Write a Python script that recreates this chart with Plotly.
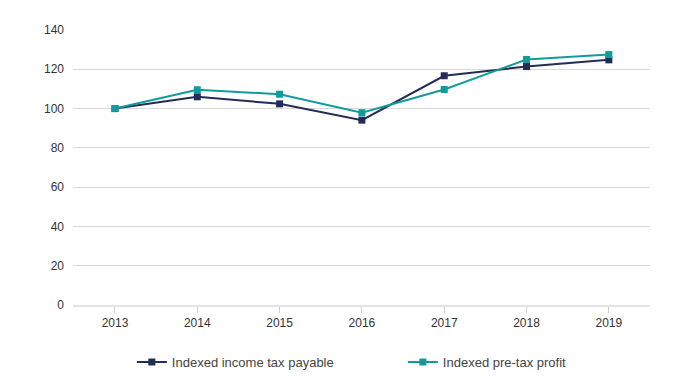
import plotly.graph_objects as go

years = [2013, 2014, 2015, 2016, 2017, 2018, 2019]
income_tax = [100, 106.0, 102.4, 94.1, 116.7, 121.4, 124.8]
pretax_profit = [100, 109.6, 107.3, 97.9, 109.7, 125.0, 127.5]
y_ticks = [0, 20, 40, 60, 80, 100, 120, 140]

navy = "#232c57"
teal = "#139a9c"

fig = go.Figure()
fig.add_trace(go.Scatter(x=years, y=income_tax, mode="lines+markers",
                         name="Indexed income tax payable",
                         line=dict(color=navy, width=2),
                         marker=dict(symbol="square", size=7, color=navy)))
fig.add_trace(go.Scatter(x=years, y=pretax_profit, mode="lines+markers",
                         name="Indexed pre-tax profit",
                         line=dict(color=teal, width=2),
                         marker=dict(symbol="square", size=7, color=teal)))

fig.update_layout(
    width=690, height=384,
    margin=dict(l=65, r=48, t=22, b=87, autoexpand=False),
    paper_bgcolor="white", plot_bgcolor="white",
    font=dict(family="Liberation Sans, Arial, sans-serif", size=12, color="#333333"),
    showlegend=True,
    legend=dict(orientation="h", x=0.102, xanchor="left", y=-0.153, yanchor="top",
                font=dict(size=13, color="#444444"), traceorder="normal",
                entrywidth=226, entrywidthmode="pixels"),
    hovermode=False,
)
fig.update_xaxes(range=[2012.49, 2019.5], tickmode="array", tickvals=years,
                 ticktext=[str(y) for y in years],
                 showgrid=False, showline=True, linecolor="#e3e3e3", linewidth=2,
                 ticks="outside", tickcolor="#d0d0d0", ticklen=6, tickwidth=1,
                 zeroline=False)
fig.update_yaxes(range=[0, 140], tickvals=y_ticks, showgrid=True, gridcolor="#d9d9d9",
                 gridwidth=1, zeroline=False, showline=False, ticks="",
                 ticklabelstandoff=8)

fig.write_html("out.html")
